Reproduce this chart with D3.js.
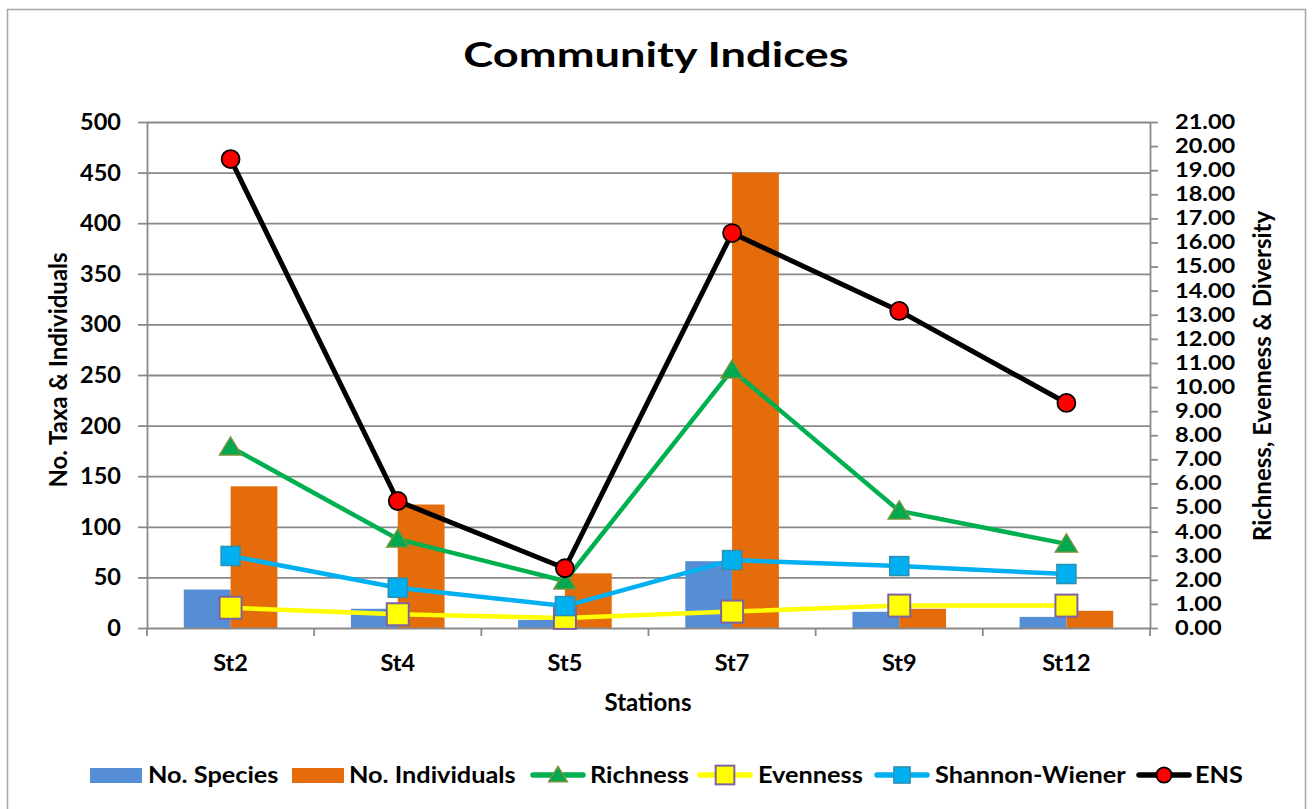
<!DOCTYPE html>
<html>
<head>
<meta charset="utf-8">
<script src="https://cdn.jsdelivr.net/npm/d3@7"></script>
<style>
  html, body { margin: 0; padding: 0; background: #fff; }
  svg { display: block; font-family: Lato, "Open Sans", sans-serif; font-weight: 700; }
</style>
</head>
<body>
<svg id="chart" width="1312" height="809"></svg>
<script>
// data
const stations = ["St2", "St4", "St5", "St7", "St9", "St12"];
const noSpecies = [38, 19, 8, 66, 16, 11];
const noIndividuals = [140, 122, 54, 450, 19, 17];
const richness = [7.51, 3.69, 1.95, 10.71, 4.86, 3.49];
const evenness = [0.84, 0.57, 0.42, 0.68, 0.93, 0.93];
const shannon = [2.99, 1.67, 0.91, 2.82, 2.57, 2.24];
const ens = [19.46, 5.27, 2.48, 16.39, 13.16, 9.34];

const leftTicks = d3.range(0, 501, 50);
const rightTicks = d3.range(0, 21.01, 1);

const plot = { left: 147, right: 1150, top: 122, bottom: 628 };
const gray = "#898989";

const svg = d3.select("#chart");

// outer chart border
svg.append("rect")
    .attr("x", 7.5).attr("y", 9.5)
    .attr("width", 1298).attr("height", 806)
    .attr("fill", "none").attr("stroke", "#a6a6a6").attr("stroke-width", 1.5);

const xCat = d3.scaleBand().domain(stations).range([plot.left, plot.right]).padding(0);
const bw = xCat.bandwidth();
const xSub = d3.scaleBand().domain(["species", "individuals"]).range([bw * 0.22, bw * 0.78]).padding(0);
const yLeft = d3.scaleLinear().domain([0, 500]).range([plot.bottom, plot.top]);
const yRight = d3.scaleLinear().domain([0, 21]).range([plot.bottom, plot.top]);
const cx = (s) => xCat(s) + bw / 2;

// gridlines
svg.append("g")
    .attr("transform", `translate(${plot.left},0)`)
    .call(d3.axisLeft(yLeft).tickValues(leftTicks.slice(1)).tickFormat("").tickSize(-(plot.right - plot.left)))
    .call(g => g.select(".domain").remove())
    .call(g => g.selectAll("line").attr("stroke", gray).attr("stroke-width", 1.8));

// bars
const rows = stations.map((s, i) => ({ station: s, species: noSpecies[i], individuals: noIndividuals[i] }));
const barColor = { species: "#558ED5", individuals: "#E46C0A" };
svg.append("g").selectAll("g")
    .data(rows)
    .join("g")
    .attr("transform", d => `translate(${xCat(d.station)},0)`)
    .selectAll("rect")
    .data(d => ["species", "individuals"].map(k => ({ key: k, value: d[k] })))
    .join("rect")
    .attr("x", d => xSub(d.key))
    .attr("width", xSub.bandwidth())
    .attr("y", d => yLeft(d.value))
    .attr("height", d => yLeft(0) - yLeft(d.value))
    .attr("fill", d => barColor[d.key]);

// axes
function styleAxis(size) {
    return g => {
        g.selectAll(".domain, line").attr("stroke", gray).attr("stroke-width", 1.8);
        g.selectAll("text").attr("fill", "#000").style("font-size", size + "px").style("font-weight", 700)
            .style("font-family", "Lato, 'Open Sans', sans-serif");
    };
}

svg.append("g")
    .attr("transform", `translate(${plot.left},0)`)
    .call(d3.axisLeft(yLeft).tickValues(leftTicks).tickSize(9).tickSizeOuter(0).tickPadding(17))
    .call(styleAxis(23.5));

// right labels are packed tight: smaller type, stretched sideways
const rsx = 1.18;
svg.append("g")
    .attr("transform", `translate(${plot.right},0)`)
    .call(d3.axisRight(yRight).tickValues(rightTicks).tickSize(8).tickSizeOuter(0).tickPadding(17).tickFormat(d3.format(".2f")))
    .call(styleAxis(20))
    .call(g => g.selectAll("text").attr("x", 25 / rsx).attr("transform", `scale(${rsx},1)`));

const xAxis = svg.append("g")
    .attr("transform", `translate(0,${plot.bottom})`)
    .call(d3.axisBottom(xCat).tickSize(0).tickSizeOuter(0).tickPadding(26))
    .call(styleAxis(23.5));
xAxis.selectAll(".bound")
    .data(d3.range(stations.length + 1))
    .join("line")
    .attr("x1", i => plot.left + i * bw).attr("x2", i => plot.left + i * bw)
    .attr("y1", 0).attr("y2", 8)
    .attr("stroke", gray).attr("stroke-width", 1.8);

// lines and markers
const line = (vals) => d3.line().x((d, i) => cx(stations[i])).y(d => yRight(d))(vals);

const series = [
    { name: "Richness", values: richness, color: "#00B050", width: 4.5, marker: "triangle", fill: "#00A84F", stroke: "#77933C" },
    { name: "Evenness", values: evenness, color: "#FFFF00", width: 4.5, marker: "bigsquare", fill: "#FFFF00", stroke: "#7F63A1" },
    { name: "Shannon-Wiener", values: shannon, color: "#00B0F0", width: 4.5, marker: "square", fill: "#00B0F0", stroke: "#2E8FB0" },
    { name: "ENS", values: ens, color: "#000000", width: 5, marker: "circle", fill: "#FF0000", stroke: "#000000" }
];

function drawMarker(g, type, fill, stroke, k = 1) {
    if (type === "triangle") {
        g.append("path").attr("d", `M0,${-10 * k} L${11 * k},${8 * k} L${-11 * k},${8 * k} Z`)
            .attr("fill", fill).attr("stroke", stroke).attr("stroke-width", 1.5);
    } else if (type === "bigsquare") {
        g.append("rect").attr("x", -11 * k).attr("y", -11 * k).attr("width", 22 * k).attr("height", 22 * k)
            .attr("fill", fill).attr("stroke", stroke).attr("stroke-width", 2);
    } else if (type === "square") {
        g.append("rect").attr("x", -9.5 * k).attr("y", -9.5 * k).attr("width", 19 * k).attr("height", 19 * k)
            .attr("fill", fill).attr("stroke", stroke).attr("stroke-width", 1.5);
    } else {
        g.append("circle").attr("r", 9 * k)
            .attr("fill", fill).attr("stroke", stroke).attr("stroke-width", 1.8);
    }
}

series.forEach(s => {
    const g = svg.append("g");
    g.append("path").attr("d", line(s.values))
        .attr("fill", "none").attr("stroke", s.color).attr("stroke-width", s.width)
        .attr("stroke-linejoin", "round");
    s.values.forEach((v, i) => {
        const m = g.append("g").attr("transform", `translate(${cx(stations[i])},${yRight(v)})`);
        drawMarker(m, s.marker, s.fill, s.stroke);
    });
});

// title and axis titles
svg.append("text").attr("transform", "translate(656,67) scale(1.33,1)").attr("text-anchor", "middle")
    .style("font-size", "34px").text("Community Indices");

svg.append("text").attr("transform", "translate(67,370) rotate(-90)").attr("text-anchor", "middle")
    .style("font-size", "24px").text("No. Taxa & Individuals");

svg.append("text").attr("transform", "translate(1271,376) rotate(-90)").attr("text-anchor", "middle")
    .style("font-size", "24px").text("Richness, Evenness & Diversity");

svg.append("text").attr("x", 648).attr("y", 711).attr("text-anchor", "middle")
    .style("font-size", "24px").text("Stations");

// legend
const legendItems = [
    { name: "No. Species", type: "bar", color: barColor.species, x: 90, tx: 148 },
    { name: "No. Individuals", type: "bar", color: barColor.individuals, x: 292, tx: 349 },
    ...series.map((s, i) => ({ name: s.name, type: "line", s, x: [530, 697, 874, 1136][i], tx: [590, 758, 935, 1195][i] }))
];
const ly = 775, lsx = 1.1;
legendItems.forEach(it => {
    const g = svg.append("g").attr("transform", `translate(${it.x},${ly})`);
    if (it.type === "bar") {
        g.append("rect").attr("x", 0).attr("y", -7).attr("width", 52).attr("height", 15).attr("fill", it.color);
    } else {
        g.append("line").attr("x1", 3).attr("x2", 53).attr("y1", 0).attr("y2", 0)
            .attr("stroke", it.s.color).attr("stroke-width", 5.5).attr("stroke-linecap", "round");
        const m = g.append("g").attr("transform", "translate(28,0)");
        drawMarker(m, it.s.marker, it.s.fill, it.s.stroke, 0.85);
    }
    svg.append("text").attr("transform", `translate(${it.tx},${ly + 8}) scale(${lsx},1)`)
        .style("font-size", "23px").text(it.name);
});
</script>
</body>
</html>
